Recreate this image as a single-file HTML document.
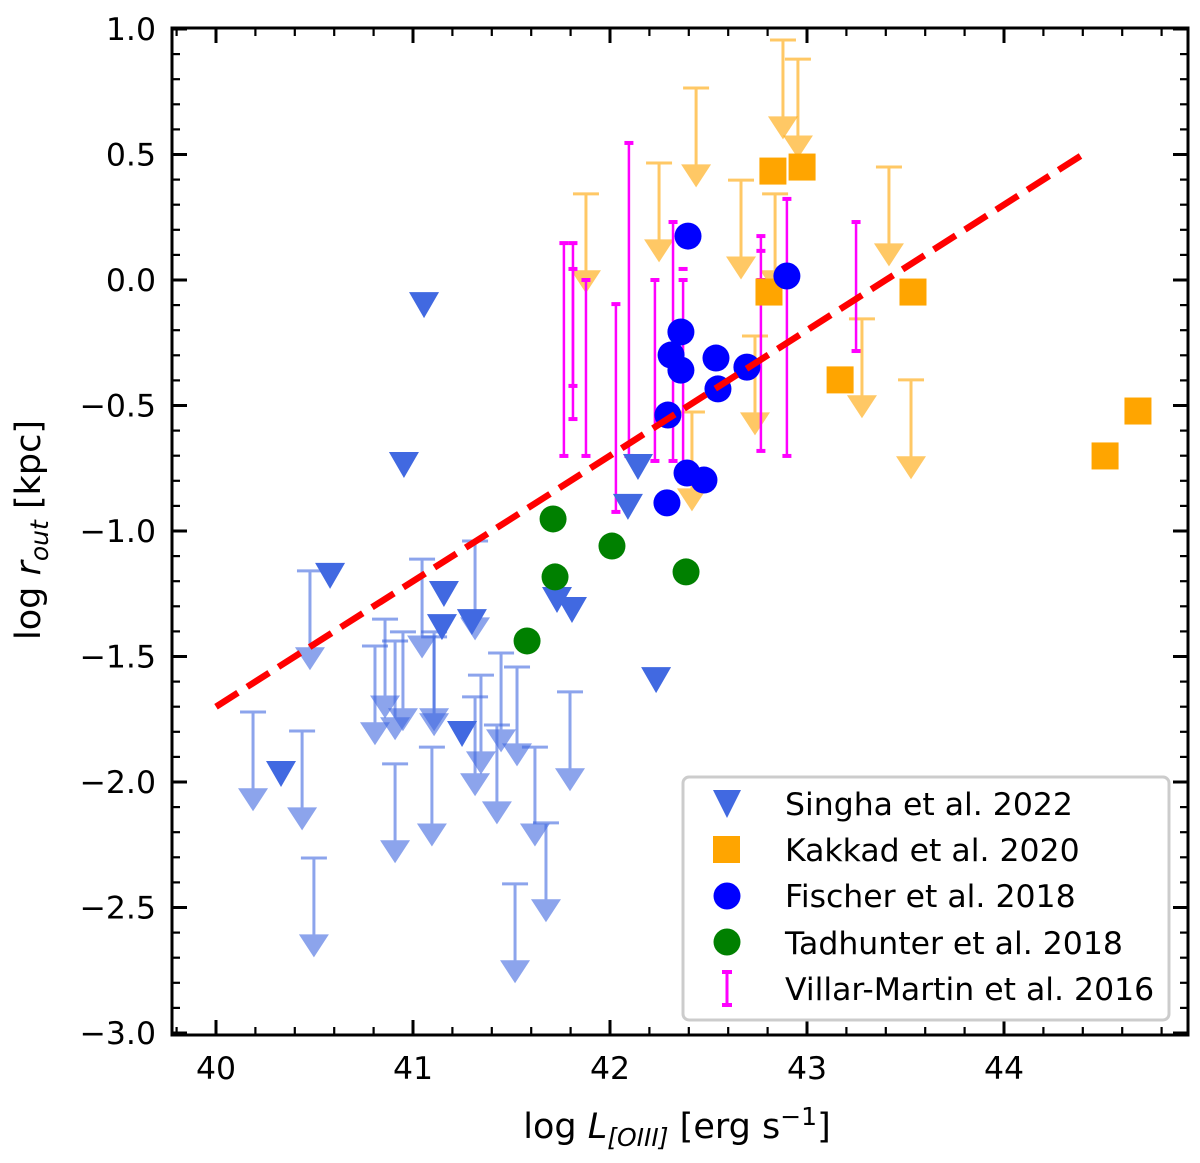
<!DOCTYPE html>
<html><head><meta charset="utf-8"><style>
html,body{margin:0;padding:0;background:#fff;}
svg{display:block;font-family:"DejaVu Sans","Liberation Sans",sans-serif;}
</style></head><body>
<svg id="chart" width="1200" height="1163" viewBox="0 0 1200 1163" xmlns="http://www.w3.org/2000/svg">
<rect x="0" y="0" width="1200" height="1163" fill="#fff"/>
<g id="plot"></g>
<g id="axes"></g>
<g id="legend">
  <rect x="683" y="777" width="486" height="243" rx="6" fill="#fff" fill-opacity="0.8" stroke="#cccccc" stroke-width="3"/>
  <g><polygon points="713,790 741,790 727,818" fill="#4169e1"/><text x="785" y="815" font-size="31.5">Singha et al. 2022</text></g>
  <g><rect x="713" y="836" width="27" height="27" fill="#ffa500"/><text x="785" y="861" font-size="31.5">Kakkad et al. 2020</text></g>
  <g><circle cx="727" cy="896" r="13.5" fill="#0000ff"/><text x="785" y="907" font-size="31.5">Fischer et al. 2018</text></g>
  <g><circle cx="727" cy="942" r="13.5" fill="#008000"/><text x="785" y="954" font-size="31.5">Tadhunter et al. 2018</text></g>
  <g><line x1="727" y1="972" x2="727" y2="1005" stroke="#ff00ff" stroke-width="3"/><line x1="722" y1="972" x2="732" y2="972" stroke="#ff00ff" stroke-width="4"/><line x1="722" y1="1005" x2="732" y2="1005" stroke="#ff00ff" stroke-width="4"/><text x="785" y="1000" font-size="31.5">Villar-Martin et al. 2016</text></g>
</g>
</svg>
<script>
// ---- data ----
const singhaX = [40.579,41.157,41.147,41.299,41.249,40.330,41.731,41.807,41.056,40.954,42.142,42.091,42.234];
const singhaY = [-1.171,-1.243,-1.375,-1.355,-1.801,-1.960,-1.267,-1.307,-0.092,-0.729,-0.737,-0.896,-1.586];
const singhaLimX = [40.477,40.188,40.437,40.497,40.858,40.807,40.909,40.949,41.046,41.107,41.107,40.909,41.096,41.315,41.315,41.345,41.447,41.528,41.426,41.619,41.675,41.518,41.797];
const singhaLimY = [-1.159,-1.721,-1.797,-2.303,-1.351,-1.458,-1.438,-1.402,-1.112,-1.402,-1.422,-1.928,-1.861,-1.040,-1.661,-1.574,-1.486,-1.542,-1.773,-1.861,-2.163,-2.406,-1.641];
const kakkadX = [42.827,42.975,42.807,43.538,43.168,44.513,44.680];
const kakkadY = [0.434,0.450,-0.048,-0.048,-0.398,-0.701,-0.522];
const kakkadLimX = [41.878,42.249,42.437,42.878,42.954,42.665,42.838,42.736,43.416,43.279,43.528,42.416];
const kakkadLimY = [0.343,0.466,0.765,0.956,0.880,0.398,0.343,-0.223,0.450,-0.155,-0.398,-0.526];
const fischerX = [42.396,42.898,42.360,42.310,42.360,42.538,42.695,42.548,42.294,42.391,42.477,42.289];
const fischerY = [0.175,0.016,-0.207,-0.299,-0.359,-0.311,-0.347,-0.434,-0.538,-0.769,-0.797,-0.888];
const tadX = [41.711,42.010,41.721,42.386,41.579];
const tadY = [-0.952,-1.060,-1.183,-1.163,-1.438];
const villarX = [41.766,41.812,41.812,41.878,42.030,42.096,42.228,42.320,42.371,42.766,42.898,43.249,42.371,42.766,42.766];
const villarHi = [0.147,0.147,0.044,0.000,-0.096,0.546,0.000,0.231,0.000,0.175,0.323,0.231,0.044,0.116,0.000];
const villarLo = [-0.701,-0.554,-0.422,-0.701,-0.924,-0.701,-0.721,-0.721,-0.797,-0.681,-0.701,-0.283,0.044,0.116,0.000];
const fitX = [40.0, 44.41];
const fitSlope = 0.5, fitIntercept = -21.7;
const arrowLen = 0.34;
const xTicks = [40,41,42,43,44];
const yTicks = [1.0,0.5,0.0,-0.5,-1.0,-1.5,-2.0,-2.5,-3.0];
const yTickLabels = ["1.0","0.5","0.0","\u22120.5","\u22121.0","\u22121.5","\u22122.0","\u22122.5","\u22123.0"];

// ---- axes ----
const L=172,R=1188,T=28,B=1035;
const sx = v => 216 + (v-40)*197;
const sy = v => 280 - v*251;
const NS="http://www.w3.org/2000/svg";
function mk(tag, attrs, parent){const e=document.createElementNS(NS,tag);for(const k in attrs)e.setAttribute(k,attrs[k]);parent.appendChild(e);return e;}
const plot=document.getElementById('plot'), axes=document.getElementById('axes');

singhaLimX.forEach((x,i)=>{
  const g=mk('g',{opacity:0.6},plot);
  
  
  const px=sx(x), y1=sy(singhaLimY[i]), y2=sy(singhaLimY[i]-arrowLen);
  mk('line',{x1:px,y1:y1,x2:px,y2:y2,stroke:'#4169e1','stroke-width':3},g);
  mk('line',{x1:px-13,y1:y1,x2:px+13,y2:y1,stroke:'#4169e1','stroke-width':3},g);
  mk('polygon',{points:`${px-15},${y2-9} ${px+15},${y2-9} ${px},${y2+14}`,fill:'#4169e1'},g);
});
kakkadLimX.forEach((x,i)=>{
  const g=mk('g',{opacity:0.6},plot);
  
  
  const px=sx(x), y1=sy(kakkadLimY[i]), y2=sy(kakkadLimY[i]-arrowLen);
  mk('line',{x1:px,y1:y1,x2:px,y2:y2,stroke:'#ffa500','stroke-width':3},g);
  mk('line',{x1:px-13,y1:y1,x2:px+13,y2:y1,stroke:'#ffa500','stroke-width':3},g);
  mk('polygon',{points:`${px-15},${y2-9} ${px+15},${y2-9} ${px},${y2+14}`,fill:'#ffa500'},g);
});
villarX.forEach((x,i)=>{
  const g=mk('g',{},plot);
  
  
  const px=sx(x), a=sy(villarHi[i]), b=sy(villarLo[i]);
  if(b-a>1) mk('line',{x1:px,y1:a,x2:px,y2:b,stroke:'#ff00ff','stroke-width':2.5},g);
  mk('line',{x1:px-4.5,y1:a,x2:px+4.5,y2:a,stroke:'#ff00ff','stroke-width':4},g);
  if(b-a>1) mk('line',{x1:px-4.5,y1:b,x2:px+4.5,y2:b,stroke:'#ff00ff','stroke-width':4},g);
});
singhaX.forEach((x,i)=>{
  const px=sx(x), py=sy(singhaY[i]);
  const p=mk('polygon',{points:`${px-15},${py-11} ${px+15},${py-11} ${px},${py+15}`,fill:'#4169e1'},plot);
  
  
});
kakkadX.forEach((x,i)=>{
  const px=sx(x), py=sy(kakkadY[i]);
  const r=mk('rect',{x:px-13.5,y:py-13.5,width:27,height:27,fill:'#ffa500'},plot);
  
  
});
fischerX.forEach((x,i)=>{
  const c=mk('circle',{cx:sx(x),cy:sy(fischerY[i]),r:13.5,fill:'#0000ff'},plot);
  
  
});
tadX.forEach((x,i)=>{
  const c=mk('circle',{cx:sx(x),cy:sy(tadY[i]),r:13.5,fill:'#008000'},plot);
  
  
});
const fl=mk('line',{x1:sx(fitX[0]),y1:sy(fitSlope*fitX[0]+fitIntercept),x2:sx(fitX[1]),y2:sy(fitSlope*fitX[1]+fitIntercept),stroke:'#ff0000','stroke-width':6.5,'stroke-dasharray':'26,11'},plot);



const fr=mk('rect',{x:L,y:T,width:R-L,height:B-T,fill:'none',stroke:'#000','stroke-width':3},axes);


for(let v=39.8; v<=44.95; v+=0.2){
  const px=sx(v); if(px<L||px>R) continue;
  const major=Math.abs(v-Math.round(v))<0.01, len=major?15:8;
  mk('line',{x1:px,y1:B,x2:px,y2:B-len,stroke:'#000','stroke-width':major?3:2.2},axes);
  mk('line',{x1:px,y1:T,x2:px,y2:T+len,stroke:'#000','stroke-width':major?3:2.2},axes);
}
for(let k=-30;k<=10;k++){
  const v=k/10, py=sy(v);
  const major=(k%5===0), len=major?15:8;
  mk('line',{x1:L,y1:py,x2:L+len,y2:py,stroke:'#000','stroke-width':major?3:2.2},axes);
  mk('line',{x1:R,y1:py,x2:R-len,y2:py,stroke:'#000','stroke-width':major?3:2.2},axes);
}
xTicks.forEach(v=>{
  const t=mk('text',{x:sx(v),y:1079,'font-size':31.5,'text-anchor':'middle'},axes);
  t.textContent=String(v);
  
  
});
yTicks.forEach((v,i)=>{
  const t=mk('text',{x:156,y:sy(v)+11,'font-size':31.5,'text-anchor':'end'},axes);
  t.textContent=yTickLabels[i];
  
  
});
const xl=mk('text',{x:677,y:1138,'font-size':35,'text-anchor':'middle'},axes);
xl.innerHTML='log <tspan font-style="italic">L</tspan><tspan font-size="25" dy="8" font-style="italic">[OIII]</tspan><tspan dy="-8"> [erg s</tspan><tspan font-size="25" dy="-13">\u22121</tspan><tspan dy="13">]</tspan>';


const yl=mk('text',{x:0,y:0,'font-size':35,'text-anchor':'middle',transform:'translate(40,530) rotate(-90)'},axes);
yl.innerHTML='log <tspan font-style="italic">r</tspan><tspan font-size="25" dy="8" font-style="italic">out</tspan><tspan dy="-8"> [kpc]</tspan>';


</script>
</body></html>
